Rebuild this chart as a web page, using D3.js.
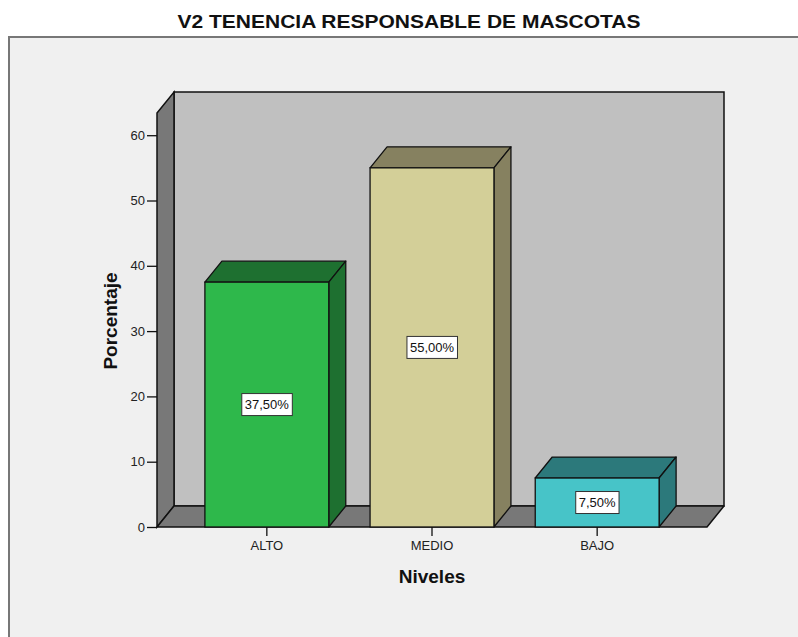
<!DOCTYPE html>
<html>
<head>
<meta charset="utf-8">
<script src="https://cdn.jsdelivr.net/npm/d3@7"></script>
<style>
  body { margin: 0; background: #ffffff; }
  svg { display: block; }
</style>
</head>
<body>
<div id="chart"></div>
<script>
// Data
let categories = ["ALTO", "MEDIO", "BAJO"];
let values = [37.5, 55.0, 7.5];
let valueLabels = ["37,50%", "55,00%", "7,50%"];
let frontColors = ["#2eb84b", "#d3cf98", "#47c4c8"];
let sideColors = ["#1e7030", "#868160", "#2c797b"];
let yTicks = [0, 10, 20, 30, 40, 50, 60];

let W = 798, H = 637;
let plot = { left: 157, right: 707, top: 113, bottom: 527 };
let depth = { dx: 17, dy: -21 };

let svg = d3.select("#chart").append("svg").attr("width", W).attr("height", H);

// Outer frame
svg.append("rect")
  .attr("x", 9).attr("y", 37)
  .attr("width", W + 10).attr("height", H)
  .attr("fill", "#f0f0f0")
  .attr("stroke", "#777")
  .attr("stroke-width", 2);

let x = d3.scaleBand()
  .domain(categories)
  .range([plot.left, plot.right])
  .paddingInner(0.25)
  .paddingOuter(0.29);

let y = d3.scaleLinear().domain([0, 63.4]).range([plot.bottom, plot.top]);

let pts = (arr) => arr.map((p) => p.join(",")).join(" ");

// Back wall
svg.append("rect")
  .attr("x", plot.left + depth.dx)
  .attr("y", plot.top + depth.dy)
  .attr("width", plot.right - plot.left)
  .attr("height", plot.bottom - plot.top)
  .attr("fill", "#c0c0c0")
  .attr("stroke", "#111")
  .attr("stroke-width", 1.5);

// Left wall
svg.append("polygon")
  .attr("points", pts([
    [plot.left, plot.top],
    [plot.left + depth.dx, plot.top + depth.dy],
    [plot.left + depth.dx, plot.bottom + depth.dy],
    [plot.left, plot.bottom],
  ]))
  .attr("fill", "#787878")
  .attr("stroke", "#111")
  .attr("stroke-width", 1.5);

// Floor
svg.append("polygon")
  .attr("points", pts([
    [plot.left, plot.bottom],
    [plot.left + depth.dx, plot.bottom + depth.dy],
    [plot.right + depth.dx, plot.bottom + depth.dy],
    [plot.right, plot.bottom],
  ]))
  .attr("fill", "#787878")
  .attr("stroke", "#111")
  .attr("stroke-width", 1.5)
  .attr("stroke-linejoin", "round");

// Bars (3D)
let bars = svg.selectAll(".bar")
  .data(values)
  .enter()
  .append("g")
  .attr("class", "bar");

// top face
bars.append("polygon")
  .attr("points", (d, i) => {
    let x0 = x(categories[i]), x1 = x0 + x.bandwidth(), yt = y(d);
    return pts([[x0, yt], [x0 + depth.dx, yt + depth.dy], [x1 + depth.dx, yt + depth.dy], [x1, yt]]);
  })
  .attr("fill", (d, i) => sideColors[i])
  .attr("stroke", "#111")
  .attr("stroke-width", 1.3)
  .attr("stroke-linejoin", "round");

// side face
bars.append("polygon")
  .attr("points", (d, i) => {
    let x1 = x(categories[i]) + x.bandwidth(), yt = y(d), yb = y(0);
    return pts([[x1, yt], [x1 + depth.dx, yt + depth.dy], [x1 + depth.dx, yb + depth.dy], [x1, yb]]);
  })
  .attr("fill", (d, i) => sideColors[i])
  .attr("stroke", "#111")
  .attr("stroke-width", 1.3)
  .attr("stroke-linejoin", "round");

// front face
bars.append("rect")
  .attr("x", (d, i) => x(categories[i]))
  .attr("y", (d) => y(d))
  .attr("width", x.bandwidth())
  .attr("height", (d) => y(0) - y(d))
  .attr("fill", (d, i) => frontColors[i])
  .attr("stroke", "#111")
  .attr("stroke-width", 1.3);

// Value labels
let labels = bars.append("g")
  .attr("transform", (d, i) =>
    `translate(${x(categories[i]) + x.bandwidth() / 2}, ${(y(d) + y(0)) / 2})`);

labels.append("text")
  .attr("text-anchor", "middle")
  .attr("dy", "0.35em")
  .style("font-family", "Liberation Sans, Arial, sans-serif")
  .style("font-size", "13px")
  .style("fill", "#111")
  .text((d, i) => valueLabels[i])
  .each(function () {
    let b = this.getBBox();
    d3.select(this.parentNode)
      .insert("rect", "text")
      .attr("x", b.x - 3)
      .attr("y", -11)
      .attr("width", b.width + 6)
      .attr("height", 22)
      .attr("fill", "#fff")
      .attr("stroke", "#333")
      .attr("stroke-width", 1);
  });

// Y axis
let yAxis = svg.append("g")
  .attr("transform", `translate(${plot.left},0)`)
  .call(d3.axisLeft(y).tickValues(yTicks).tickSize(10).tickPadding(2).tickFormat(d3.format("d")));
yAxis.select(".domain").remove();
yAxis.selectAll(".tick line").attr("stroke", "#111").attr("stroke-width", 1.3);
yAxis.selectAll(".tick text")
  .style("font-family", "Liberation Sans, Arial, sans-serif")
  .style("font-size", "13px")
  .style("fill", "#222");

// X axis
let xAxis = svg.append("g")
  .attr("transform", `translate(0,${plot.bottom})`)
  .call(d3.axisBottom(x).tickSize(9).tickPadding(5).tickSizeOuter(0));
xAxis.select(".domain").remove();
xAxis.selectAll(".tick line").attr("stroke", "#111").attr("stroke-width", 1.3);
xAxis.selectAll(".tick text")
  .style("font-family", "Liberation Sans, Arial, sans-serif")
  .style("font-size", "13px")
  .style("fill", "#222");

// Title
svg.append("text")
  .attr("x", 409)
  .attr("y", 28)
  .attr("text-anchor", "middle")
  .attr("textLength", 463)
  .attr("lengthAdjust", "spacingAndGlyphs")
  .style("font-family", "Liberation Sans, Arial, sans-serif")
  .style("font-size", "19px")
  .style("font-weight", "bold")
  .style("fill", "#111")
  .text("V2 TENENCIA RESPONSABLE DE MASCOTAS");

// Axis titles
svg.append("text")
  .attr("transform", "translate(117,321) rotate(-90)")
  .attr("text-anchor", "middle")
  .style("font-family", "Liberation Sans, Arial, sans-serif")
  .style("font-size", "19px")
  .style("font-weight", "bold")
  .style("fill", "#111")
  .text("Porcentaje");

svg.append("text")
  .attr("x", 432)
  .attr("y", 583)
  .attr("text-anchor", "middle")
  .style("font-family", "Liberation Sans, Arial, sans-serif")
  .style("font-size", "19px")
  .style("font-weight", "bold")
  .style("fill", "#111")
  .text("Niveles");
</script>
</body>
</html>
